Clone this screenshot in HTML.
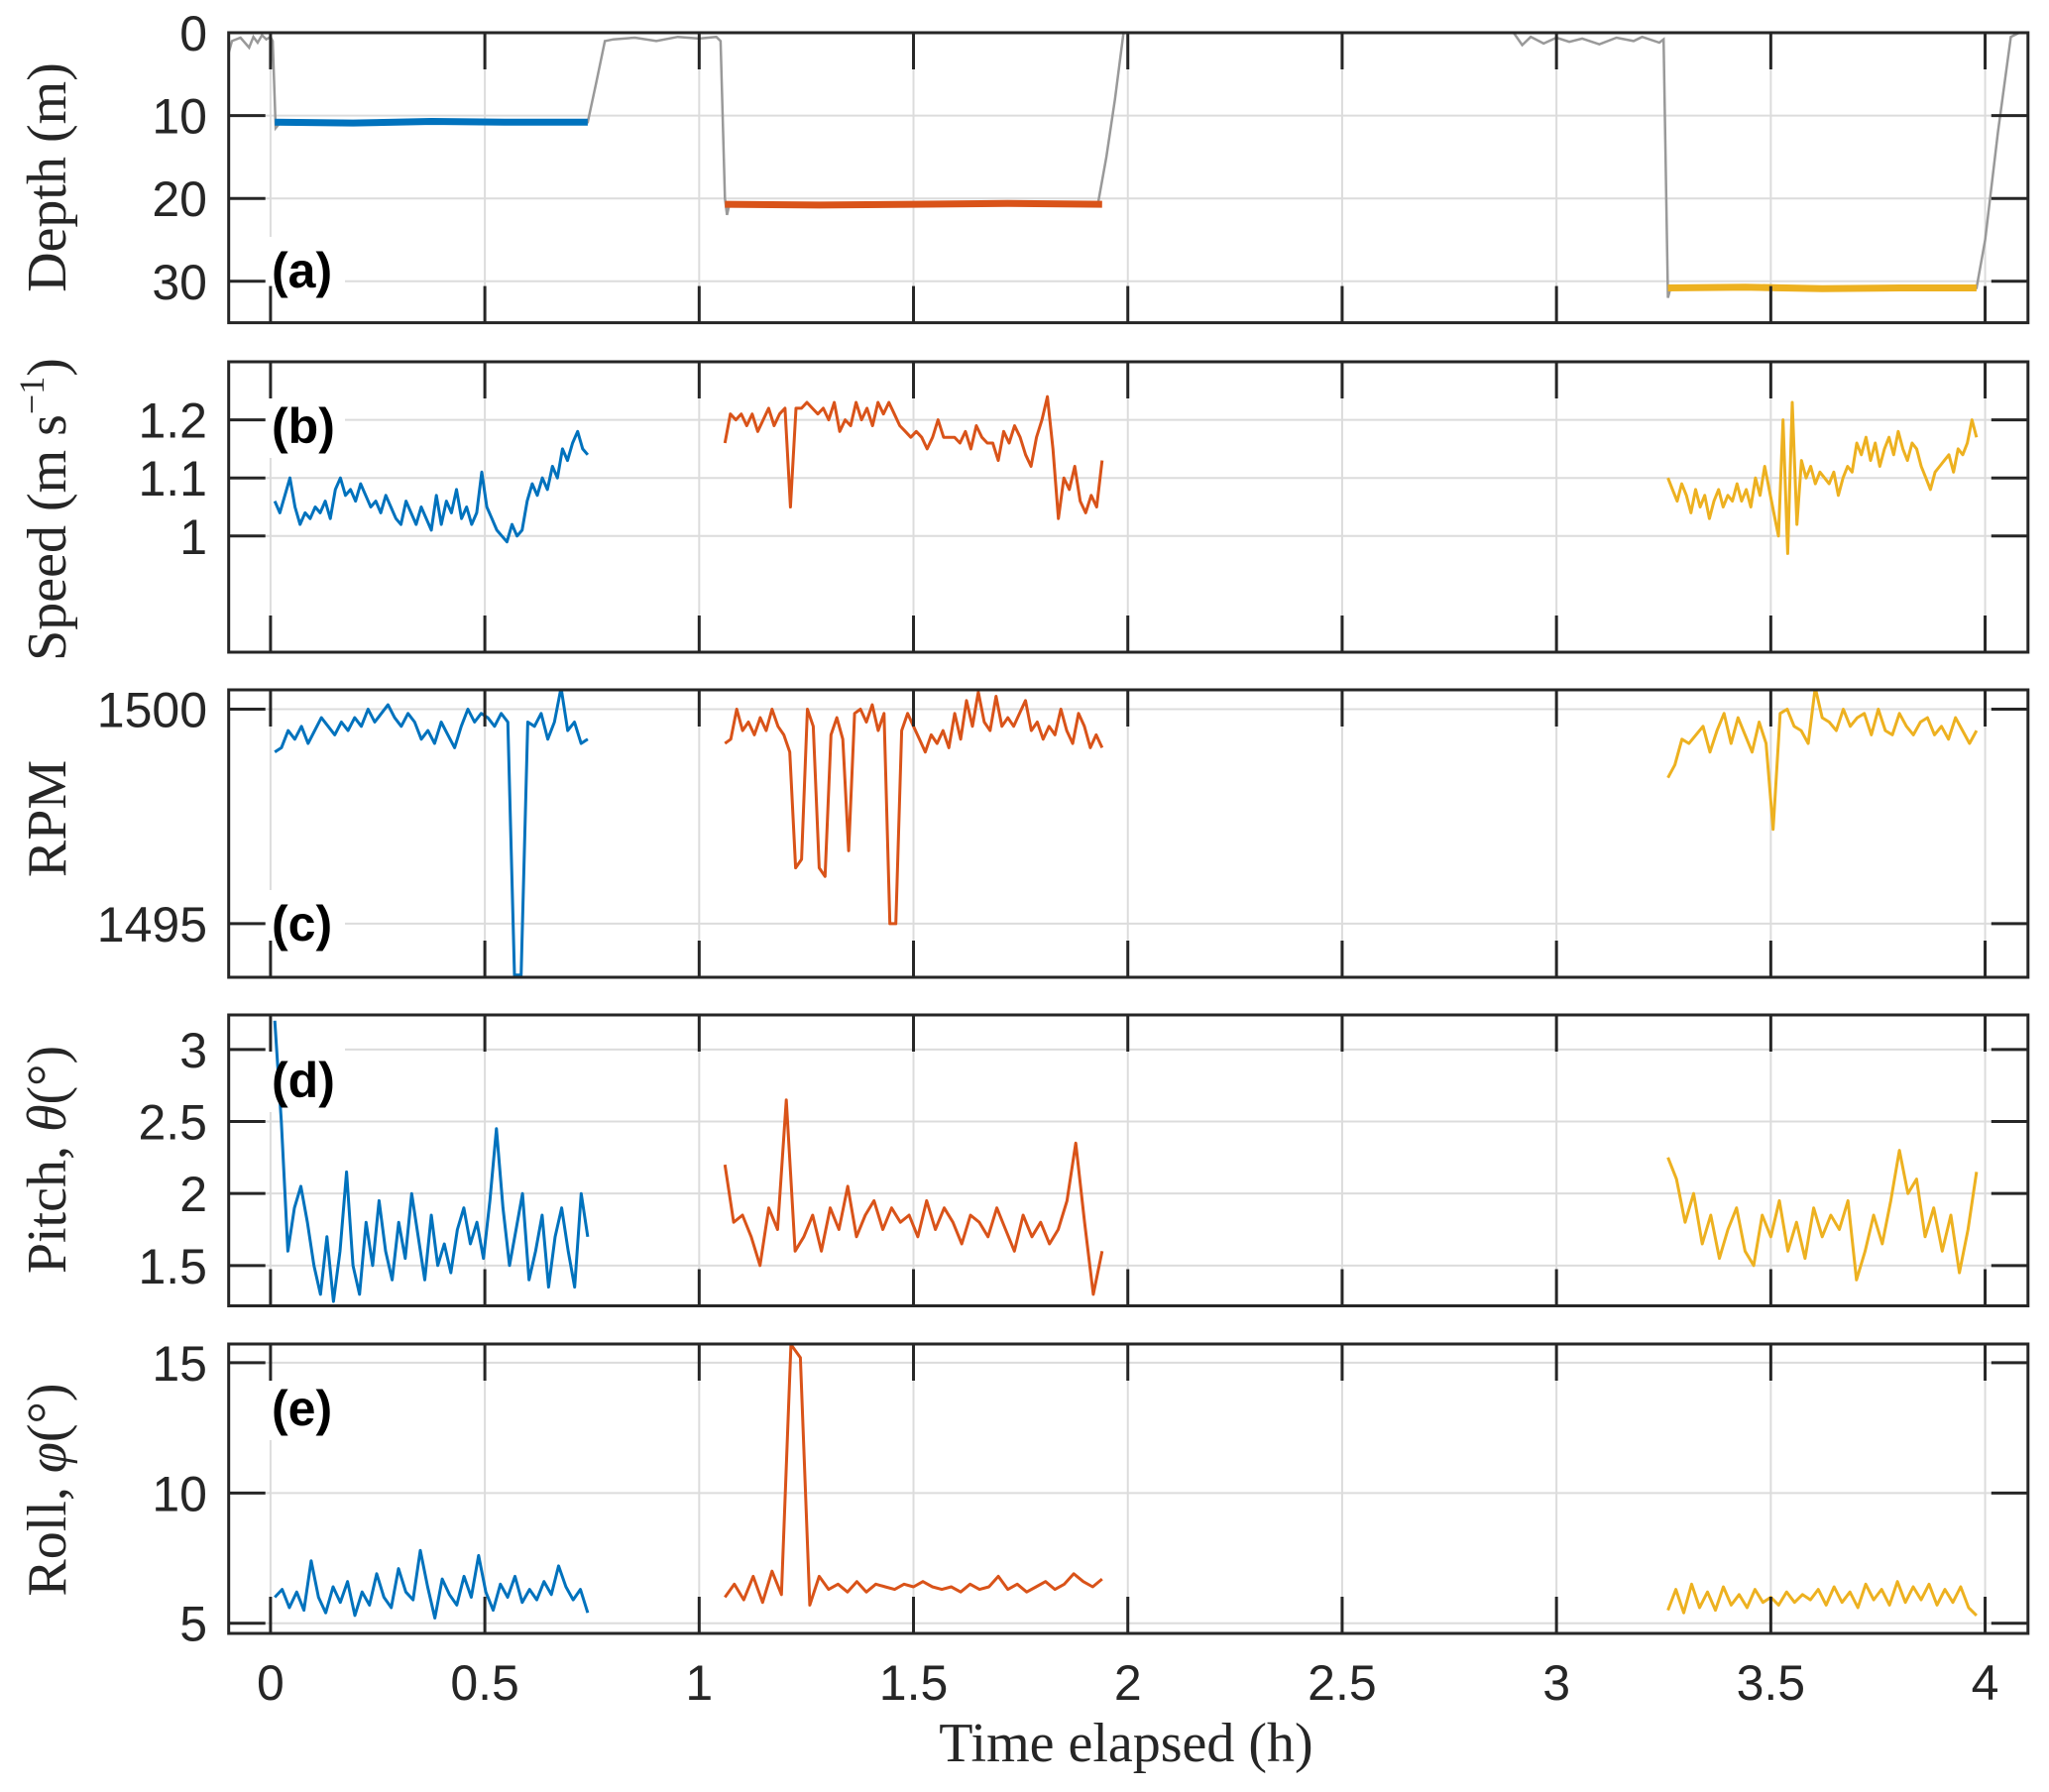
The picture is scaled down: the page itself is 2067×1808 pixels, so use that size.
<!DOCTYPE html>
<html><head><meta charset="utf-8"><style>
html,body{margin:0;padding:0;background:#fff}
svg{display:block}
.tk{font-family:"Liberation Sans",Arial,sans-serif;font-size:50px;fill:#262626}
.pl{font-family:"Liberation Sans",Arial,sans-serif;font-size:50px;font-weight:bold;fill:#000}
.yt{font-family:"Liberation Serif",serif;font-size:56px;fill:#262626}
</style></head><body>
<svg id="fig" width="2067" height="1808" viewBox="0 0 2067 1808" xmlns="http://www.w3.org/2000/svg">
<g id="grid"></g>
<g id="series"></g>
<g id="frames"></g>
<text class="yt" x="1136" y="1777" text-anchor="middle">Time elapsed (h)</text>
<text class="yt" transform="translate(66,179) rotate(-90)" text-anchor="middle">Depth (m)</text>
<text class="yt" transform="translate(66,514) rotate(-90)" text-anchor="middle">Speed (m s<tspan dy="-22" font-size="36">−1</tspan><tspan dy="22">)</tspan></text>
<text class="yt" transform="translate(66,826) rotate(-90)" text-anchor="middle">RPM</text>
<text class="yt" transform="translate(66,1170) rotate(-90)" text-anchor="middle">Pitch, <tspan font-style="italic">θ</tspan>(°)</text>
<text class="yt" transform="translate(66,1503) rotate(-90)" text-anchor="middle">Roll, <tspan font-style="italic">φ</tspan>(°)</text>
</svg>
<script>
// ---- data ----
const xTicks = [0,0.5,1,1.5,2,2.5,3,3.5,4];
const xTickLabels = ["0","0.5","1","1.5","2","2.5","3","3.5","4"];
const segBlue = [0.01,0.74], segOrange = [1.06,1.94], segYellow = [3.26,3.98];

const depthTicks = [0,10,20,30];
const grayT = [-0.098,-0.09,-0.07,-0.05,-0.04,-0.03,-0.02,-0.01,0.0,0.005,0.012,0.02,0.74,0.76,0.78,0.8,0.85,0.9,0.95,1.0,1.04,1.05,1.06,1.065,1.07,1.93,1.95,1.97,1.99,2.1,2.5,2.9,2.92,2.94,2.97,3.0,3.03,3.06,3.1,3.14,3.18,3.2,3.24,3.25,3.26,3.265,3.27,3.98,4.0,4.03,4.06,4.08,4.1];
const grayD = [2.5,1,0.6,1.8,0.5,1.2,0.3,0.8,0.5,1,11.5,11,10.8,6,1,0.8,0.6,1,0.5,0.7,0.5,1,20,22,20.8,20.7,15,8,0,0,0,0,1.5,0.5,1.3,0.6,1.1,0.7,1.4,0.6,1.0,0.5,1.2,0.8,32,31,30.8,30.8,25,12,0.5,0,0];
const depthBlue = [10.8,10.9,10.7,10.8,10.8];
const depthOrange = [20.7,20.8,20.7,20.6,20.7];
const depthYellow = [30.8,30.7,30.9,30.8,30.8];

const speedTicks = [1,1.1,1.2], speedLabels = ["1","1.1","1.2"];
const speedBlue = [1.06,1.04,1.07,1.10,1.05,1.02,1.04,1.03,1.05,1.04,1.06,1.03,1.08,1.10,1.07,1.08,1.06,1.09,1.07,1.05,1.06,1.04,1.07,1.05,1.03,1.02,1.06,1.04,1.02,1.05,1.03,1.01,1.07,1.02,1.06,1.04,1.08,1.03,1.05,1.02,1.04,1.11,1.05,1.03,1.01,1.00,0.99,1.02,1.00,1.01,1.06,1.09,1.07,1.10,1.08,1.12,1.10,1.15,1.13,1.16,1.18,1.15,1.14];
const speedOrange = [1.16,1.21,1.20,1.21,1.19,1.21,1.18,1.20,1.22,1.19,1.21,1.22,1.05,1.22,1.22,1.23,1.22,1.21,1.22,1.20,1.23,1.18,1.20,1.19,1.23,1.20,1.22,1.19,1.23,1.21,1.23,1.21,1.19,1.18,1.17,1.18,1.17,1.15,1.17,1.20,1.17,1.17,1.17,1.16,1.18,1.15,1.19,1.17,1.16,1.16,1.13,1.18,1.16,1.19,1.17,1.14,1.12,1.17,1.20,1.24,1.15,1.03,1.10,1.08,1.12,1.06,1.04,1.07,1.05,1.13];
const speedYellow = [1.10,1.08,1.06,1.09,1.07,1.04,1.08,1.05,1.07,1.03,1.06,1.08,1.05,1.07,1.06,1.09,1.06,1.08,1.05,1.10,1.07,1.12,1.08,1.04,1.00,1.20,0.97,1.23,1.02,1.13,1.10,1.12,1.09,1.11,1.10,1.09,1.11,1.07,1.10,1.12,1.11,1.16,1.14,1.17,1.13,1.16,1.12,1.15,1.17,1.14,1.18,1.15,1.13,1.16,1.15,1.12,1.10,1.08,1.11,1.12,1.13,1.14,1.11,1.15,1.14,1.16,1.20,1.17];

const rpmTicks = [1495,1500];
const rpmBlue = [1499.0,1499.1,1499.5,1499.3,1499.6,1499.2,1499.5,1499.8,1499.6,1499.4,1499.7,1499.5,1499.8,1499.6,1500.0,1499.7,1499.9,1500.1,1499.8,1499.6,1499.9,1499.7,1499.3,1499.5,1499.2,1499.7,1499.4,1499.1,1499.6,1500.0,1499.7,1499.9,1499.8,1499.6,1499.9,1499.7,1493.8,1493.8,1499.7,1499.6,1499.9,1499.3,1499.7,1500.5,1499.5,1499.7,1499.2,1499.3];
const rpmOrange = [1499.2,1499.3,1500.0,1499.5,1499.7,1499.4,1499.8,1499.5,1500.0,1499.6,1499.4,1499.0,1496.3,1496.5,1500.0,1499.6,1496.3,1496.1,1499.4,1499.8,1499.3,1496.7,1499.9,1500.0,1499.7,1500.1,1499.5,1499.9,1495.0,1495.0,1499.5,1499.9,1499.6,1499.3,1499.0,1499.4,1499.2,1499.5,1499.1,1499.9,1499.3,1500.2,1499.6,1500.4,1499.7,1499.5,1500.3,1499.6,1499.8,1499.6,1499.9,1500.2,1499.5,1499.7,1499.3,1499.6,1499.4,1500.0,1499.5,1499.2,1499.9,1499.6,1499.1,1499.4,1499.1];
const rpmYellow = [1498.4,1498.7,1499.3,1499.2,1499.4,1499.6,1499.0,1499.5,1499.9,1499.2,1499.8,1499.4,1499.0,1499.7,1499.2,1497.2,1499.9,1500.0,1499.6,1499.5,1499.2,1500.5,1499.8,1499.7,1499.5,1500.0,1499.6,1499.8,1499.9,1499.4,1500.0,1499.5,1499.4,1499.9,1499.6,1499.4,1499.7,1499.8,1499.4,1499.6,1499.3,1499.8,1499.5,1499.2,1499.5];

const pitchTicks = [1.5,2,2.5,3], pitchLabels = ["1.5","2","2.5","3"];
const pitchBlue = [3.2,2.5,1.6,1.9,2.05,1.8,1.5,1.3,1.7,1.25,1.6,2.15,1.5,1.3,1.8,1.5,1.95,1.6,1.4,1.8,1.55,2.0,1.7,1.4,1.85,1.5,1.65,1.45,1.75,1.9,1.65,1.8,1.55,1.95,2.45,1.9,1.5,1.75,2.0,1.4,1.6,1.85,1.35,1.7,1.9,1.6,1.35,2.0,1.7];
const pitchOrange = [2.2,1.8,1.85,1.7,1.5,1.9,1.75,2.65,1.6,1.7,1.85,1.6,1.9,1.75,2.05,1.7,1.85,1.95,1.75,1.9,1.8,1.85,1.7,1.95,1.75,1.9,1.8,1.65,1.85,1.8,1.7,1.9,1.75,1.6,1.85,1.7,1.8,1.65,1.75,1.95,2.35,1.8,1.3,1.6];
const pitchYellow = [2.25,2.1,1.8,2.0,1.65,1.85,1.55,1.75,1.9,1.6,1.5,1.85,1.7,1.95,1.6,1.8,1.55,1.9,1.7,1.85,1.75,1.95,1.4,1.6,1.85,1.65,1.95,2.3,2.0,2.1,1.7,1.9,1.6,1.85,1.45,1.75,2.15];

const rollTicks = [5,10,15], rollLabels = ["5","10","15"];
const rollBlue = [6.0,6.3,5.6,6.2,5.5,7.4,6.0,5.4,6.4,5.8,6.6,5.3,6.2,5.7,6.9,6.0,5.6,7.1,6.2,5.9,7.8,6.4,5.2,6.7,6.1,5.7,6.8,6.0,7.6,6.2,5.5,6.5,6.0,6.8,5.8,6.3,5.9,6.6,6.1,7.2,6.4,5.9,6.3,5.4];
const rollOrange = [6.0,6.5,5.9,6.8,5.8,7.0,6.1,15.7,15.2,5.7,6.8,6.3,6.5,6.2,6.6,6.2,6.5,6.4,6.3,6.5,6.4,6.6,6.4,6.3,6.4,6.2,6.5,6.3,6.4,6.8,6.3,6.5,6.2,6.4,6.6,6.3,6.5,6.9,6.6,6.4,6.7];
const rollYellow = [5.5,6.3,5.4,6.5,5.6,6.2,5.5,6.4,5.7,6.1,5.6,6.3,5.8,6.0,5.7,6.2,5.8,6.1,5.9,6.3,5.7,6.4,5.8,6.2,5.6,6.5,5.9,6.3,5.7,6.6,5.8,6.4,5.9,6.5,5.7,6.3,5.8,6.4,5.6,5.3];

// ---- layout ----
const X0=230.7, X1=2045.8, TMIN=-0.0976, TMAX=4.1;
const xs = t => X0 + (t-TMIN)/(TMAX-TMIN)*(X1-X0);
const panels = [
 {id:"a",top:33,bot:325.6,min:0,max:35,inv:true,ticks:depthTicks,labels:depthTicks.map(String),labY:273},
 {id:"b",top:365,bot:658,min:0.8,max:1.3,ticks:speedTicks,labels:speedLabels,labY:430},
 {id:"c",top:696,bot:986,min:1493.75,max:1500.45,ticks:rpmTicks,labels:rpmTicks.map(String),labY:932},
 {id:"d",top:1024,bot:1317.5,min:1.22,max:3.24,ticks:pitchTicks,labels:pitchLabels,labY:1090},
 {id:"e",top:1356,bot:1648,min:4.61,max:15.72,ticks:rollTicks,labels:rollLabels,labY:1421}
];
function ys(p,v){const f=(v-p.min)/(p.max-p.min);return p.inv? p.top+f*(p.bot-p.top) : p.bot-f*(p.bot-p.top);}
const NS="http://www.w3.org/2000/svg";
function mk(tag,attrs,parent){const e=document.createElementNS(NS,tag);for(const k in attrs)e.setAttribute(k,attrs[k]);parent.appendChild(e);return e;}
const G=document.getElementById("grid"), S=document.getElementById("series"), F=document.getElementById("frames"), SV=document.getElementById("fig");
const COL={blue:"#0072BD",orange:"#D95319",yellow:"#EDB120",gray:"#999999"};

function drawLine(p,seg,vals,color,w,name){
  const n=vals.length;
  const pts=vals.map((v,i)=>{const t=seg[0]+(seg[1]-seg[0])*i/(n-1);return xs(t).toFixed(1)+","+ys(p,v).toFixed(1);}).join(" ");
  const e=mk("polyline",{points:pts,fill:"none",stroke:color,"stroke-width":w,"stroke-linejoin":"round","clip-path":"url(#clip"+p.id+")"},S);
  
  
}

panels.forEach(p=>{
  const clip=mk("clipPath",{id:"clip"+p.id},SV);
  mk("rect",{x:X0,y:p.top,width:X1-X0,height:p.bot-p.top},clip);
  xTicks.forEach(t=>{const g=mk("line",{x1:xs(t),x2:xs(t),y1:p.top,y2:p.bot,stroke:"#dcdcdc","stroke-width":2},G);
    
    });
  p.ticks.forEach(v=>{const g=mk("line",{x1:X0,x2:X1,y1:ys(p,v),y2:ys(p,v),stroke:"#dcdcdc","stroke-width":2},G);
    
    });
  const r=mk("rect",{x:X0,y:p.top,width:X1-X0,height:p.bot-p.top,fill:"none",stroke:"#262626","stroke-width":3},F);
  
  
  xTicks.forEach(t=>{
    const a=mk("line",{x1:xs(t),x2:xs(t),y1:p.top,y2:p.top+37,stroke:"#262626","stroke-width":3},F);
    
    
    const b=mk("line",{x1:xs(t),x2:xs(t),y1:p.bot,y2:p.bot-37,stroke:"#262626","stroke-width":3},F);
    
    
  });
  p.ticks.forEach((v,i)=>{
    const y=ys(p,v);
    const a=mk("line",{x1:X0,x2:X0+37,y1:y,y2:y,stroke:"#262626","stroke-width":3},F);
    
    
    const b=mk("line",{x1:X1,x2:X1-37,y1:y,y2:y,stroke:"#262626","stroke-width":3},F);
    
    
    const tx=mk("text",{x:209,y:y+18,"text-anchor":"end",class:"tk"},F);
    tx.textContent=p.labels[i];
    
    
  });
  const bx=mk("rect",{x:268,y:p.labY-34,width:80,height:66,fill:"#fff"},G);
  
  
  const pl=mk("text",{x:274,y:p.labY+17,class:"pl"},F);
  pl.textContent="("+p.id+")";
  
  
});
xTicks.forEach((t,i)=>{
  const tx=mk("text",{x:xs(t),y:1715,"text-anchor":"middle",class:"tk"},F);
  tx.textContent=xTickLabels[i];
  
  
});
const [pa,pb,pc,pd,pe]=panels;
(function(){
  const pts=grayT.map((t,i)=>xs(t).toFixed(1)+","+ys(pa,grayD[i]).toFixed(1)).join(" ");
  const e=mk("polyline",{points:pts,fill:"none",stroke:COL.gray,"stroke-width":2.5,"clip-path":"url(#clipa)"},S);
  
  
})();
drawLine(pa,segBlue,depthBlue,COL.blue,7,'depth-blue-line');
drawLine(pa,segOrange,depthOrange,COL.orange,7,'depth-orange-line');
drawLine(pa,segYellow,depthYellow,COL.yellow,7,'depth-yellow-line');
drawLine(pb,segBlue,speedBlue,COL.blue,3,'speed-blue-line');
drawLine(pb,segOrange,speedOrange,COL.orange,3,'speed-orange-line');
drawLine(pb,segYellow,speedYellow,COL.yellow,3,'speed-yellow-line');
drawLine(pc,segBlue,rpmBlue,COL.blue,3,'rpm-blue-line');
drawLine(pc,segOrange,rpmOrange,COL.orange,3,'rpm-orange-line');
drawLine(pc,segYellow,rpmYellow,COL.yellow,3,'rpm-yellow-line');
drawLine(pd,segBlue,pitchBlue,COL.blue,3,'pitch-blue-line');
drawLine(pd,segOrange,pitchOrange,COL.orange,3,'pitch-orange-line');
drawLine(pd,segYellow,pitchYellow,COL.yellow,3,'pitch-yellow-line');
drawLine(pe,segBlue,rollBlue,COL.blue,3,'roll-blue-line');
drawLine(pe,segOrange,rollOrange,COL.orange,3,'roll-orange-line');
drawLine(pe,segYellow,rollYellow,COL.yellow,3,'roll-yellow-line');
</script>
</body></html>
